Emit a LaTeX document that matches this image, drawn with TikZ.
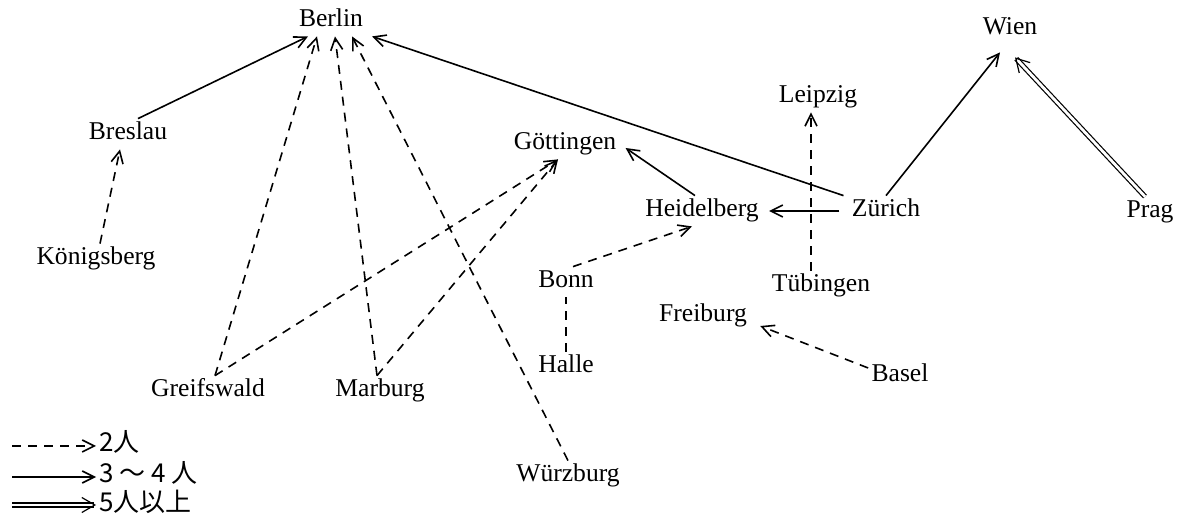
\documentclass[tikz,border=0pt]{standalone}
\usepackage{fontspec}
\setmainfont{Liberation Serif}
\newfontfamily\jpfont{Noto Sans CJK JP}
\usetikzlibrary{arrows.meta}

\begin{document}
\begin{tikzpicture}[x=0.5pt,y=-0.5pt,
    every node/.style={inner sep=1.5pt, text height=9pt, text depth=3pt, font=\fontsize{12.8}{14}\selectfont},
    two/.style={line width=0.8pt, dash pattern=on 4.5pt off 3.5pt, -{Straight Barb[length=6pt,width=6pt]}},
    three/.style={line width=0.8pt, -{Straight Barb[length=6pt,width=6pt]}},
    five/.style={line width=0.6pt, double, double distance=1.4pt, -{Straight Barb[length=6.5pt,width=7.5pt]}},
    key/.style={anchor=west, font=\jpfont\fontsize{13}{15}\selectfont}]
  \useasboundingbox (0,0) rectangle (1181,522);

  \node (berlin) at (331,21) {Berlin};
  \node (breslau) at (128,134) {Breslau};
  \node (koenigsberg) at (96,259) {Königsberg};
  \node (goettingen) at (565,144) {Göttingen};
  \node (heidelberg) at (702,211) {Heidelberg};
  \node (zuerich) at (886,211) {Zürich};
  \node (leipzig) at (818,97) {Leipzig};
  \node (tuebingen) at (821,286) {Tübingen};
  \node (wien) at (1010,29) {Wien};
  \node (prag) at (1150,212) {Prag};
  \node (bonn) at (566,282) {Bonn};
  \node (halle) at (566,367) {Halle};
  \node (freiburg) at (703,316) {Freiburg};
  \node (basel) at (900,376) {Basel};
  \node (greifswald) at (208,391) {Greifswald};
  \node (marburg) at (380,391) {Marburg};
  \node (wuerzburg) at (568,476) {Würzburg};

  \draw[three] ([xshift=5pt]breslau.north) -- ([xshift=-11.5pt]berlin.south);
  \draw[two] ([xshift=2pt]koenigsberg.north) -- ([xshift=-4pt]breslau.south);
  \draw[two] ([xshift=3.5pt]greifswald.north) -- ([xshift=-7pt]berlin.south);
  \draw[two] ([xshift=-1.5pt]marburg.north) -- ([xshift=2pt]berlin.south);
  \draw[two] (wuerzburg.north) -- ([xshift=10.5pt]berlin.south);
  \draw[three] ([xshift=-2.5pt]zuerich.north west) -- ([xshift=20.5pt]berlin.south);
  \draw[two] ([xshift=3.5pt]greifswald.north) -- ([xshift=-3.5pt]goettingen.south);
  \draw[two] ([xshift=-1.5pt]marburg.north) -- ([xshift=-3.5pt]goettingen.south);
  \draw[three] ([xshift=-3.5pt]heidelberg.north) -- ([shift={(3pt,-2pt)}]goettingen.east);
  \draw[three] ([xshift=-4.5pt]zuerich.west) -- ([xshift=3.5pt]heidelberg.east);
  \draw[two] ([xshift=3.5pt]bonn.north) -- ([xshift=-5pt]heidelberg.south);
  \draw[two,-] (halle) -- (bonn);
  \draw[two] ([xshift=-5pt]tuebingen.north) -- ([xshift=-3.5pt]leipzig.south);
  \draw[two] ([yshift=4pt]basel.west) -- ([shift={(5pt,-5pt)}]freiburg.east);
  \draw[three] (zuerich.north) -- ([shift={(-5pt,-4pt)}]wien.south);
  \draw[five] ([xshift=-2.5pt]prag.north) -- ([shift={(2.5pt,-6.5pt)}]wien.south);

  % legend
  \coordinate (k2) at (12,446);
  \coordinate (k3) at (12,477);
  \coordinate (k5) at (12,505);
  \node[key] (l2) at (96,446) {2人};
  \node[key] (l3) at (96,477) {3 ～ 4 人};
  \node[key] (l5) at (96,505) {5人以上};
  \draw[two] (k2) -- (l2.west);
  \draw[three] (k3) -- (l3.west);
  \draw[five] (k5) -- (l5.west);
\end{tikzpicture}
\end{document}
